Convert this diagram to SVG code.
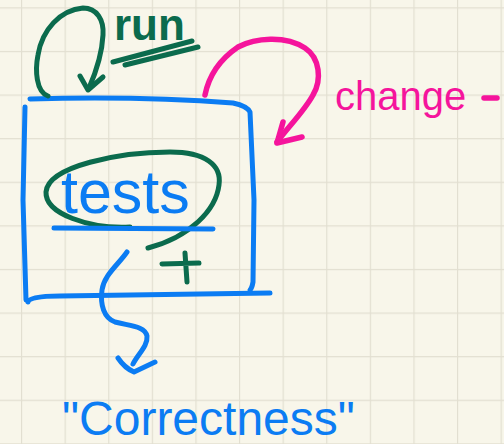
<svg xmlns="http://www.w3.org/2000/svg" width="504" height="444" viewBox="0 0 504 444">
<defs>
<pattern id="grid" x="21" y="7.3" width="43.6" height="43.6" patternUnits="userSpaceOnUse">
<path d="M0,0 H43.6 M0,0 V43.6" fill="none" stroke="#e2dfd1" stroke-width="2.4"/>
</pattern>
<style>
.s{fill:none;stroke-linecap:round;stroke-linejoin:round}
.blue{stroke:#0b7cf3;stroke-width:5}
.green{stroke:#0b6b4d;stroke-width:5}
.pink{stroke:#f5149c;stroke-width:5.5}
.t{font-family:"Liberation Sans",Arial,sans-serif}
</style>
</defs>
<rect width="504" height="444" fill="#f8f6ea"/>
<rect width="504" height="444" fill="url(#grid)"/>

<g id="box">
<path class="s blue" d="M30,99 Q140,96 233,103 Q247,106 250,112 L254,200 L253,282 Q252,288 250,290"/>
<path class="s blue" d="M25,107 L23,200 L26,300"/>
<path class="s blue" d="M28,302 Q29,296 60,296 L270,293"/>
</g>

<g id="tests">
<path class="s green" d="M130,227 C90,229 45,214 46,192 C48,166 120,152 170,152 C205,152 222,165 219,185 C216,210 190,237 148,248"/>
<text class="t" x="61" y="213" font-size="61" fill="#0b7cf3">tests</text>
<path class="s blue" d="M54,228 L213,229"/>
</g>

<g id="plus">
<path class="s green" d="M162,264 L199,263 M185,253 L187,282"/>
</g>

<g id="run">
<text class="t" x="114" y="40" font-size="44" font-weight="bold" fill="#0b6b4d">run</text>
<path class="s green" d="M113,62 L192,41 M125,65 L198,47"/>
</g>

<g id="change">
<text class="t" x="335" y="110" font-size="40" fill="#f5149c">change</text>
<path class="s pink" d="M484,98 L497,98"/>
</g>

<g id="correctness">
<text class="t" x="62" y="435" font-size="48" fill="#0b7cf3">"Correctness"</text>
</g>

<g id="connectors">
<path class="s green" d="M48,96 C36,92 35,70 38,55 C42,30 60,10 83,8 C97,8 104,20 103,35 C102,55 96,72 89,88"/>
<path class="s green" d="M80,76 L88,90 L103,77"/>
<path class="s pink" d="M205,95 C208,80 216,62 238,47 C255,38 285,35 305,48 C320,58 322,80 313,95 C305,110 290,125 277,142"/>
<path class="s pink" d="M283,122 L277,143 L302,137"/>
<path class="s blue" d="M127,252 C118,265 104,275 102,290 C100,305 104,318 115,322 C130,326 145,326 147,336 C148,346 138,354 133,364"/>
<path class="s blue" d="M118,358 C122,364 127,369 134,372 L155,362"/>
</g>
</svg>
